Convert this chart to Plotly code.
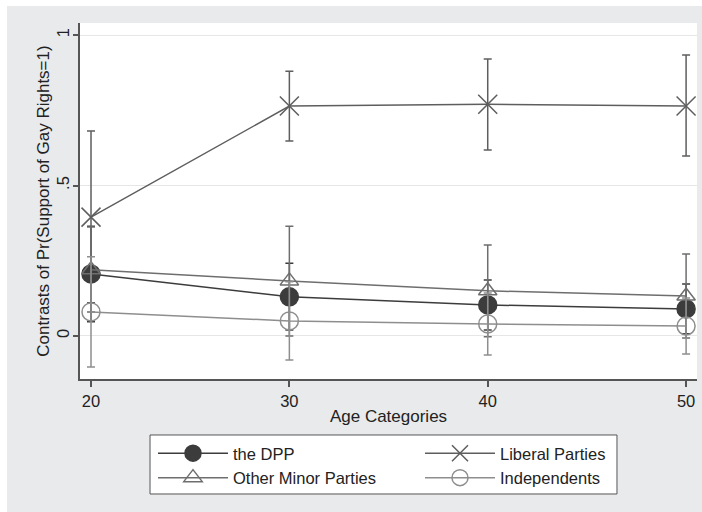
import plotly.graph_objects as go

ages = [20, 30, 40, 50]
series_names = ["the DPP", "Liberal Parties", "Other Minor Parties", "Independents"]

dpp = [0.206, 0.130, 0.103, 0.090]
dpp_lo = [0.047, 0.020, 0.020, 0.007]
dpp_hi = [0.365, 0.242, 0.186, 0.173]

liberal = [0.395, 0.764, 0.770, 0.764]
liberal_lo = [0.110, 0.648, 0.618, 0.598]
liberal_hi = [0.681, 0.880, 0.920, 0.934]

minor = [0.220, 0.183, 0.150, 0.133]
minor_lo = [0.080, 0.000, -0.003, -0.007]
minor_hi = [0.362, 0.365, 0.302, 0.272]

indep = [0.080, 0.050, 0.040, 0.033]
indep_lo = [-0.103, -0.080, -0.063, -0.060]
indep_hi = [0.263, 0.180, 0.143, 0.126]

y_tickvals = [0, 0.5, 1]
y_ticktext = ["0", ".5", "1"]
x_tickvals = [20, 30, 40, 50]

FONT = "Liberation Sans, Arial, Helvetica, sans-serif"

styles = [
    dict(color="#3c3c3c", symbol="circle", size=18, fill="#3c3c3c"),
    dict(color="#5e5e5e", symbol="x-thin-open", size=19, fill="#5e5e5e"),
    dict(color="#6e6e6e", symbol="triangle-up-open", size=16, fill="#6e6e6e"),
    dict(color="#8e8e8e", symbol="circle-open", size=18, fill="#8e8e8e"),
]
data = [(dpp, dpp_lo, dpp_hi), (liberal, liberal_lo, liberal_hi),
        (minor, minor_lo, minor_hi), (indep, indep_lo, indep_hi)]

fig = go.Figure()
for name, (vals, lo, hi), st in zip(series_names, data, styles):
    fig.add_trace(go.Scatter(
        x=ages, y=vals, name=name, mode="lines+markers",
        line=dict(color=st["color"], width=1.5),
        marker=dict(symbol=st["symbol"], size=st["size"], color=st["fill"],
                    line=dict(color=st["color"], width=1.5)),
        error_y=dict(type="data", symmetric=False,
                     array=[h - v for h, v in zip(hi, vals)],
                     arrayminus=[v - l for v, l in zip(vals, lo)],
                     color=st["color"], thickness=1.5, width=4),
    ))

# Outer gray graph region, white plot region, legend box
fig.add_shape(type="rect", xref="paper", yref="paper", x0=-0.1183, x1=1.01,
              y0=-0.40, y1=1.0478, fillcolor="#e9eaec", line=dict(width=0), layer="below")
fig.add_shape(type="rect", xref="paper", yref="paper", x0=0, x1=1, y0=0, y1=1,
              fillcolor="white", line=dict(width=0), layer="below")
fig.add_shape(type="rect", xref="paper", yref="paper", x0=0.1135, x1=0.8703,
              y0=-0.3230, y1=-0.1573, fillcolor="white",
              line=dict(width=1, color="#555555"), layer="below")

fig.update_layout(
    width=702, height=512,
    margin=dict(l=80, r=5, t=23, b=133),
    paper_bgcolor="white", plot_bgcolor="white",
    font=dict(family=FONT, size=16, color="#222222"),
    showlegend=True,
    legend=dict(orientation="h", x=0.1183, y=-0.160, xanchor="left", yanchor="top",
                bgcolor="rgba(0,0,0,0)", borderwidth=0,
                itemwidth=70, entrywidth=182, entrywidthmode="pixels",
                font=dict(family=FONT, size=16.5, color="#222222"),
                traceorder="normal", tracegroupgap=0),
    xaxis=dict(range=[19.445, 50.55], tickvals=x_tickvals, showgrid=False,
               showline=True, linecolor="#555555", linewidth=1.5,
               ticks="outside", ticklen=6, tickcolor="#555555", tickwidth=1.5,
               tickfont=dict(size=16.5), zeroline=False,
               title=dict(text="Age Categories", font=dict(size=17), standoff=2)),
    yaxis=dict(range=[-0.143, 1.04], tickvals=y_tickvals, ticktext=y_ticktext,
               tickangle=-90, showgrid=True, gridcolor="#e6e6e6", gridwidth=1,
               showline=True, linecolor="#555555", linewidth=1.5,
               ticks="outside", ticklen=5, tickcolor="#555555", tickwidth=1.5,
               tickfont=dict(size=16.5), zeroline=False, ticklabelstandoff=-2,
               title=dict(text="Contrasts of Pr(Support of Gay Rights=1)",
                          font=dict(size=17), standoff=0)),
)

fig.write_html("out.html", config={"displayModeBar": False},
               post_script="document.body.style.margin='0';document.body.style.overflow='hidden';")
